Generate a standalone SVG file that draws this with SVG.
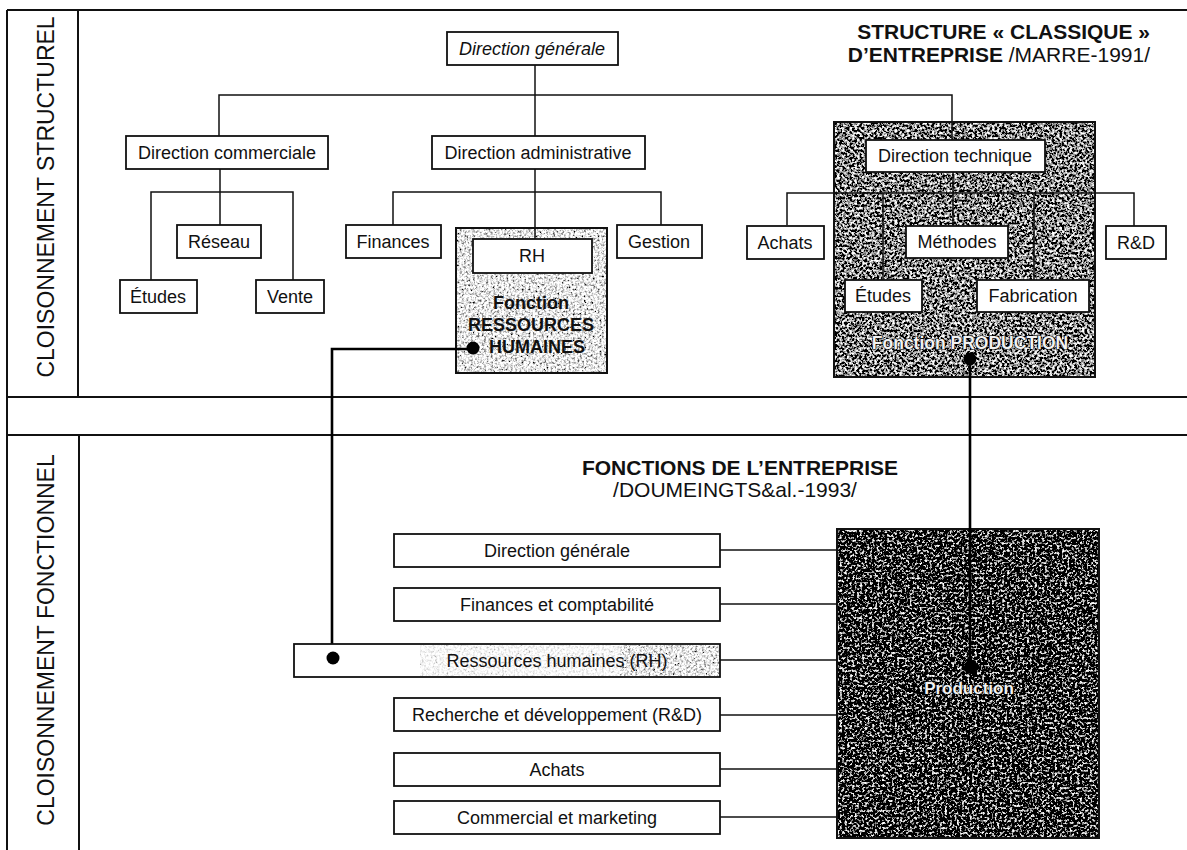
<svg xmlns="http://www.w3.org/2000/svg" width="1187" height="850" viewBox="0 0 1187 850">
  <defs>
    <style>
      .frame { stroke: #111; stroke-width: 2; fill: none; }
      .box { fill: #fff; stroke: #111; stroke-width: 1.8; }
      .link { stroke: #111; stroke-width: 1.5; fill: none; }
      .thick { stroke: #000; stroke-width: 2.6; fill: none; }
      .lbl { font-family: "Liberation Sans", Arial, sans-serif; font-size: 18px; fill: #111; text-anchor: middle; }
      .ital { font-style: italic; }
      .bold { font-weight: bold; }
      .side { font-family: "Liberation Sans", Arial, sans-serif; font-size: 23px; fill: #111; text-anchor: middle; }
      .title { font-family: "Liberation Sans", Arial, sans-serif; font-size: 21px; fill: #111; }
      .outline { font-family: "Liberation Sans", Arial, sans-serif; font-weight: bold; fill: #f2f2f2; stroke: #000; stroke-width: 1.2; paint-order: stroke; text-anchor: middle; }
    </style>
    <!-- light stipple: pale grey with dark grains -->
    <filter id="grainLight" x="0" y="0" width="100%" height="100%">
      <feTurbulence type="fractalNoise" baseFrequency="0.45" numOctaves="4" seed="4" result="n"/>
      <feColorMatrix in="n" type="matrix" values="-2.6 0 0 0 2.1  -2.6 0 0 0 2.1  -2.6 0 0 0 2.1  0 0 0 0 1" result="g"/>
      <feComposite in="g" in2="SourceGraphic" operator="in"/>
    </filter>
    <!-- dark stipple with light mottling -->
    <filter id="grainMid" x="0" y="0" width="100%" height="100%">
      <feTurbulence type="fractalNoise" baseFrequency="0.4" numOctaves="4" seed="7" result="n"/>
      <feColorMatrix in="n" type="matrix" values="3.6 0 0 0 -1.55  3.6 0 0 0 -1.55  3.6 0 0 0 -1.55  0 0 0 0 1" result="g"/>
      <feComposite in="g" in2="SourceGraphic" operator="in"/>
    </filter>
    <!-- very dark stipple with sparse light specks -->
    <filter id="grainDark" x="0" y="0" width="100%" height="100%">
      <feTurbulence type="fractalNoise" baseFrequency="0.4" numOctaves="4" seed="11" result="n"/>
      <feColorMatrix in="n" type="matrix" values="4.2 0 0 0 -2.2  4.2 0 0 0 -2.2  4.2 0 0 0 -2.2  0 0 0 0 1" result="g"/>
      <feComposite in="g" in2="SourceGraphic" operator="in"/>
    </filter>
  </defs>

  <rect x="0" y="0" width="1187" height="850" fill="#fff"/>

  <!-- page frame and bands -->
  <g id="frame">
    <line class="frame" x1="7" y1="10" x2="1187" y2="10"/>
    <line class="frame" x1="7" y1="10" x2="7" y2="850"/>
    <line class="frame" x1="78" y1="10" x2="78" y2="397"/>
    <line class="frame" x1="79" y1="435" x2="79" y2="850"/>
    <line class="frame" x1="7" y1="397" x2="1187" y2="397"/>
    <line class="frame" x1="7" y1="435" x2="1187" y2="435"/>
    <text class="side" transform="translate(54,197) rotate(-90)">CLOISONNEMENT STRUCTUREL</text>
    <text class="side" transform="translate(54,640) rotate(-90)">CLOISONNEMENT FONCTIONNEL</text>
  </g>

  <!-- titles -->
  <g id="titles">
    <text class="title bold" x="1150" y="39" text-anchor="end">STRUCTURE « CLASSIQUE »</text>
    <text class="title" x="1150" y="62" text-anchor="end"><tspan font-weight="bold">D’ENTREPRISE </tspan>/MARRE-1991/</text>
    <text class="title bold" x="740" y="475" text-anchor="middle">FONCTIONS DE L’ENTREPRISE</text>
    <text class="title" x="735" y="497" text-anchor="middle">/DOUMEINGTS&amp;al.-1993/</text>
  </g>

  <!-- shaded function areas -->
  <g id="fonction-rh">
    <rect x="456" y="228" width="151" height="145" fill="#ccc"/>
    <rect x="456" y="228" width="151" height="145" fill="#fff" filter="url(#grainLight)"/>
    <rect x="456" y="228" width="151" height="145" fill="none" stroke="#111" stroke-width="2"/>
    <text class="lbl bold" x="531" y="309">Fonction</text>
    <text class="lbl bold" x="531" y="331">RESSOURCES</text>
    <text class="lbl bold" x="531" y="353" dx="6">HUMAINES</text>
  </g>
  <g id="fonction-production">
    <rect x="834" y="122" width="261" height="255" fill="#333"/>
    <rect x="834" y="122" width="261" height="255" fill="#fff" filter="url(#grainMid)"/>
    <rect x="834" y="122" width="261" height="255" fill="none" stroke="#111" stroke-width="2"/>
    <text class="outline" x="970" y="349" font-size="17.5">Fonction PRODUCTION</text>
  </g>
  <g id="production">
    <rect x="837" y="529" width="262" height="309" fill="#111"/>
    <rect x="837" y="529" width="262" height="309" fill="#fff" filter="url(#grainDark)"/>
    <rect x="837" y="529" width="262" height="309" fill="none" stroke="#111" stroke-width="2"/>
    <text class="outline" x="969" y="694" font-size="17">Production</text>
  </g>

  <!-- connectors -->
  <g id="connectors">
    <!-- top level -->
    <polyline class="link" points="535,65 535,136"/>
    <polyline class="link" points="219,136 219,95 952,95 952,140"/>
    <!-- commerciale -->
    <polyline class="link" points="220,169 220,225"/>
    <polyline class="link" points="151,280 151,192 293,192 293,280"/>
    <!-- administrative -->
    <polyline class="link" points="535,169 535,239"/>
    <polyline class="link" points="393,225 393,192 661,192 661,225"/>
    <!-- technique -->
    <polyline class="link" points="953,172 953,226"/>
    <polyline class="link" points="787,225 787,193 1134,193 1134,226"/>
    <polyline class="link" points="883,193 883,280"/>
    <polyline class="link" points="1034,193 1034,280"/>
    <!-- functions to production -->
    <line class="link" x1="720" y1="550" x2="837" y2="550"/>
    <line class="link" x1="720" y1="604" x2="837" y2="604"/>
    <line class="link" x1="720" y1="660" x2="837" y2="660"/>
    <line class="link" x1="720" y1="715" x2="837" y2="715"/>
    <line class="link" x1="720" y1="769" x2="837" y2="769"/>
    <line class="link" x1="720" y1="817" x2="837" y2="817"/>
    <!-- cross-links between the two views -->
    <polyline class="thick" points="473,349 332,349 332,658"/>
    <polyline class="thick" points="970,359 970,667"/>
    <circle cx="473" cy="348" r="6.5" fill="#000"/>
    <circle cx="970" cy="359" r="6.5" fill="#000"/>
    <circle cx="333" cy="658" r="6.5" fill="#000"/>
    <circle cx="971" cy="667" r="7" fill="#000"/>
  </g>

  <!-- structural nodes -->
  <g id="direction-generale">
    <rect class="box" x="447" y="32" width="171" height="33"/>
    <text class="lbl ital" x="532" y="55">Direction générale</text>
  </g>
  <g id="direction-commerciale">
    <rect class="box" x="126" y="136" width="202" height="33"/>
    <text class="lbl" x="227" y="159">Direction commerciale</text>
  </g>
  <g id="direction-administrative">
    <rect class="box" x="432" y="136" width="213" height="33"/>
    <text class="lbl" x="538" y="159">Direction administrative</text>
  </g>
  <g id="direction-technique">
    <rect class="box" x="866" y="140" width="179" height="32"/>
    <text class="lbl" x="955" y="162">Direction technique</text>
  </g>
  <g id="reseau">
    <rect class="box" x="177" y="225" width="84" height="33"/>
    <text class="lbl" x="219" y="248">Réseau</text>
  </g>
  <g id="etudes-com">
    <rect class="box" x="120" y="280" width="77" height="33"/>
    <text class="lbl" x="158" y="303">Études</text>
  </g>
  <g id="vente">
    <rect class="box" x="256" y="280" width="68" height="33"/>
    <text class="lbl" x="290" y="303">Vente</text>
  </g>
  <g id="finances">
    <rect class="box" x="346" y="225" width="95" height="33"/>
    <text class="lbl" x="393" y="248">Finances</text>
  </g>
  <g id="rh">
    <rect class="box" x="473" y="239" width="119" height="34" stroke-width="2"/>
    <text class="lbl" x="532" y="262">RH</text>
  </g>
  <g id="gestion">
    <rect class="box" x="617" y="225" width="85" height="33"/>
    <text class="lbl" x="659" y="248">Gestion</text>
  </g>
  <g id="achats">
    <rect class="box" x="747" y="226" width="77" height="33"/>
    <text class="lbl" x="785" y="249">Achats</text>
  </g>
  <g id="methodes">
    <rect class="box" x="906" y="226" width="102" height="32"/>
    <text class="lbl" x="957" y="248">Méthodes</text>
  </g>
  <g id="rd">
    <rect class="box" x="1106" y="226" width="60" height="33"/>
    <text class="lbl" x="1136" y="249">R&amp;D</text>
  </g>
  <g id="etudes-tech">
    <rect class="box" x="845" y="280" width="77" height="32"/>
    <text class="lbl" x="883" y="302">Études</text>
  </g>
  <g id="fabrication">
    <rect class="box" x="977" y="280" width="112" height="32"/>
    <text class="lbl" x="1033" y="302">Fabrication</text>
  </g>

  <!-- enterprise functions -->
  <g id="f-direction-generale">
    <rect class="box" x="394" y="534" width="326" height="33"/>
    <text class="lbl" x="557" y="557">Direction générale</text>
  </g>
  <g id="f-finances">
    <rect class="box" x="394" y="588" width="326" height="33"/>
    <text class="lbl" x="557" y="611">Finances et comptabilité</text>
  </g>
  <g id="f-rh">
    <rect x="294" y="644" width="426" height="33" fill="#fff"/>
    <rect x="420" y="645" width="200" height="31" fill="#fff" filter="url(#grainLight)" opacity="0.3"/>
    <rect x="620" y="645" width="100" height="31" fill="#fff" filter="url(#grainLight)" opacity="0.9"/>
    <rect x="294" y="644" width="426" height="33" fill="none" stroke="#111" stroke-width="1.8"/>
    <text class="lbl" x="557" y="667">Ressources humaines (RH)</text>
    <circle cx="333" cy="658" r="6.5" fill="#000"/>
  </g>
  <g id="f-rd">
    <rect class="box" x="394" y="698" width="326" height="33"/>
    <text class="lbl" x="557" y="721">Recherche et développement (R&amp;D)</text>
  </g>
  <g id="f-achats">
    <rect class="box" x="394" y="753" width="326" height="33"/>
    <text class="lbl" x="557" y="776">Achats</text>
  </g>
  <g id="f-commercial">
    <rect class="box" x="394" y="801" width="326" height="33"/>
    <text class="lbl" x="557" y="824">Commercial et marketing</text>
  </g>
</svg>
